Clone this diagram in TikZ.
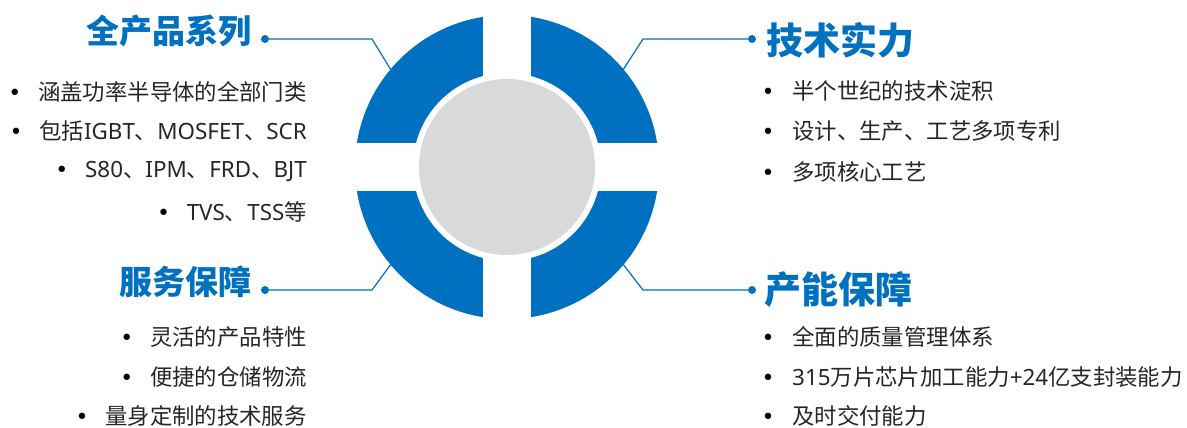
\documentclass[tikz,border=0pt]{standalone}
\usepackage{fontspec}
\setmainfont{Noto Sans CJK SC}
\newfontfamily\latinfont{Noto Sans}
\newfontfamily\bulletfont{DejaVu Sans}
\usetikzlibrary{calc}
\definecolor{ringblue}{HTML}{0070C0}
\definecolor{coregray}{HTML}{D9D9D9}
\definecolor{txtgray}{HTML}{262626}
\newcommand{\lat}[1]{{\latinfont #1}}
\tikzset{
  headL/.style={font=\bfseries\fontsize{33}{33}\selectfont, text=ringblue, inner sep=0pt},
  headR/.style={font=\bfseries\fontsize{37}{37}\selectfont, text=ringblue, inner sep=0pt},
  item/.style={font=\fontsize{22.4}{22.4}\selectfont, text=txtgray, inner sep=0pt},
  bul/.style={font=\bulletfont\fontsize{22}{22}\selectfont, text=black, inner sep=0pt, anchor=base},
  lead/.style={draw=ringblue, line width=1.2pt},
  knot/.style={circle, fill=ringblue, inner sep=0pt, minimum size=8pt},
}

\begin{document}
\begin{tikzpicture}[x=1pt,y=-1pt]
\useasboundingbox (0,0) rectangle (1187,428);
\coordinate (c) at (507,167);
\fill[ringblue] (c) circle (152pt);
\fill[white] (c) circle (94pt);
\fill[white] (483,10) rectangle (531,324);
\fill[white] (350,143) rectangle (664,191);
\fill[coregray] (c) circle (88pt);

% titles
\node[headL, anchor=east] (fp) at (252,31) {全产品系列};
\node[headR, anchor=west] (js) at (766,40) {技术实力};
\node[headL, anchor=east] (fw) at (252,282) {服务保障};
\node[headR, anchor=west] (cn) at (764,290) {产能保障};

% leaders
\node[knot] (kfp) at (265,39) {};
\node[knot] (kjs) at (752,39) {};
\node[knot] (kfw) at (265,290) {};
\node[knot] (kcn) at (752,290) {};
\coordinate (efp) at (372,39);
\coordinate (ejs) at (643,39);
\coordinate (efw) at (372,290);
\coordinate (ecn) at (643,290);
\coordinate (rfp) at ($(c)+(140:152pt)$);
\coordinate (rjs) at ($(c)+(40:152pt)$);
\coordinate (rfw) at ($(c)+(220:152pt)$);
\coordinate (rcn) at ($(c)+(320:152pt)$);
\draw[lead] (kfp) -- (efp) -- (rfp);
\draw[lead] (kjs) -- (ejs) -- (rjs);
\draw[lead] (kfw) -- (efw) -- (rfw);
\draw[lead] (kcn) -- (ecn) -- (rcn);

% 全产品系列
\node[item, anchor=east] (fp1) at (307,92) {涵盖功率半导体的全部门类};
\node[item, anchor=east] (fp2) at (307,131) {包括\lat{IGBT}、\lat{MOSFET}、\lat{SCR}};
\node[item, anchor=east] (fp3) at (307,172) {\lat{S80}、\lat{IPM}、\lat{FRD}、\lat{BJT}};
\node[item, anchor=east] (fp4) at (307,212) {\lat{TVS}、\lat{TSS}等};
\node[bul] at ($(fp1.base west)+(-23,0)$) {•};
\node[bul] at ($(fp2.base west)+(-23,0)$) {•};
\node[bul] at ($(fp3.base west)+(-23,0)$) {•};
\node[bul] at ($(fp4.base west)+(-23,0)$) {•};

% 技术实力
\node[item, anchor=west] (js1) at (792,91) {半个世纪的技术淀积};
\node[item, anchor=west] (js2) at (792,131) {设计、生产、工艺多项专利};
\node[item, anchor=west] (js3) at (792,172) {多项核心工艺};
\node[bul] at ($(js1.base west)+(-24,0)$) {•};
\node[bul] at ($(js2.base west)+(-24,0)$) {•};
\node[bul] at ($(js3.base west)+(-24,0)$) {•};

% 服务保障
\node[item, anchor=east] (fw1) at (307,337) {灵活的产品特性};
\node[item, anchor=east] (fw2) at (307,377) {便捷的仓储物流};
\node[item, anchor=east] (fw3) at (307,416) {量身定制的技术服务};
\node[bul] at ($(fw1.base west)+(-23,0)$) {•};
\node[bul] at ($(fw2.base west)+(-23,0)$) {•};
\node[bul] at ($(fw3.base west)+(-23,0)$) {•};

% 产能保障
\node[item, anchor=west] (cn1) at (792,337) {全面的质量管理体系};
\node[item, anchor=west] (cn2) at (792,377) {\lat{315}万片芯片加工能力\lat{+24}亿支封装能力};
\node[item, anchor=west] (cn3) at (792,416) {及时交付能力};
\node[bul] at ($(cn1.base west)+(-24,0)$) {•};
\node[bul] at ($(cn2.base west)+(-24,0)$) {•};
\node[bul] at ($(cn3.base west)+(-24,0)$) {•};
\end{tikzpicture}
\end{document}
